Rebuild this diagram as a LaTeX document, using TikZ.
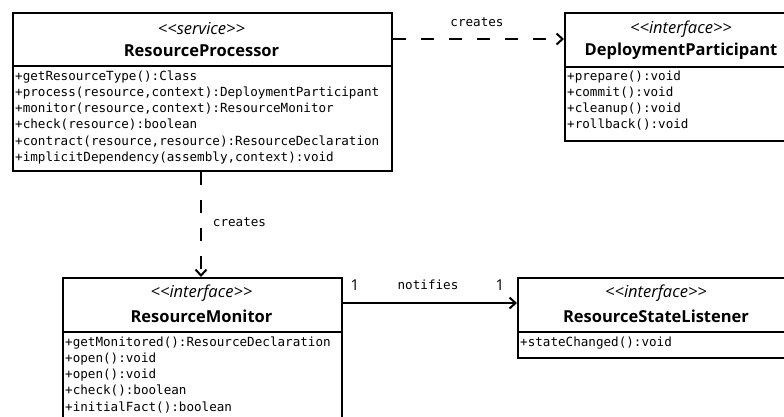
\documentclass[tikz,border=0pt]{standalone}
\usepackage{fontspec}
\setmainfont{Open Sans}
\newfontfamily\monof{DejaVu Sans Mono}
\usetikzlibrary{arrows.meta}
\tikzset{
  x=1pt, y=-1pt,
  hdr/.style={draw, line width=2pt, anchor=north west, inner sep=0pt, align=center, fill=white},
  bdy/.style={draw, line width=2pt, anchor=north west, inner sep=0pt, fill=white},
  attr/.style={anchor=north west, inner sep=0pt, align=left, font=\monof\fontsize{12.6}{16.2}\selectfont},
  lbl/.style={inner sep=0pt, font=\monof\fontsize{12.6}{16.2}\selectfont},
  mult/.style={inner sep=0pt, font=\fontsize{15}{15}\selectfont},
  dep/.style={line width=2pt, dash pattern=on 13pt off 15pt, -{Straight Barb[length=6pt,width=11pt,line width=2pt]}},
  assoc/.style={line width=2pt, -{Straight Barb[length=6pt,width=11pt,line width=2pt]}},
}
\newcommand{\stereo}[1]{{\itshape\fontsize{16.5}{16.5}\selectfont <\kern0pt<#1>\kern0pt>}}
\newcommand{\cname}[1]{{\bfseries\fontsize{16.5}{16.5}\selectfont #1}}
\begin{document}
\begin{tikzpicture}
\clip (0,0) rectangle (784,416);
\useasboundingbox (0,0) rectangle (784,416);
% ResourceProcessor
\node[bdy, minimum width=379pt, minimum height=105pt] (rpb) at (12,65) {};
\node[hdr, minimum width=379pt, minimum height=53pt] (rph) at (12,12) {};
\node (rpst) at (201.5,29) {\stereo{service}};
\node (rpnm) at (201.5,51) {\cname{ResourceProcessor}};
\node[attr] (rpat) at (15,70.5) {+getResourceType():Class\\+process(resource,context):DeploymentParticipant\\+monitor(resource,context):ResourceMonitor\\+check(resource):boolean\\+contract(resource,resource):ResourceDeclaration\\+implicitDependency(assembly,context):void};
% DeploymentParticipant
\node[bdy, minimum width=234pt, minimum height=74pt] (dpb) at (564,66) {};
\node[hdr, minimum width=234pt, minimum height=54pt] (dph) at (564,12) {};
\node (dpst) at (681,29) {\stereo{interface}};
\node (dpnm) at (681,51) {\cname{DeploymentParticipant}};
\node[attr] (dpat) at (567,70.5) {+prepare():void\\+commit():void\\+cleanup():void\\+rollback():void};
% ResourceMonitor
\node[bdy, minimum width=279pt, minimum height=110pt] (rmb) at (62,331) {};
\node[hdr, minimum width=279pt, minimum height=54pt] (rmh) at (62,277) {};
\node (rmst) at (201.5,293) {\stereo{interface}};
\node (rmnm) at (201.5,316) {\cname{ResourceMonitor}};
\node[attr] (rmat) at (65,336.5) {+getMonitored():ResourceDeclaration\\+open():void\\+open():void\\+check():boolean\\+initialFact():boolean};
% ResourceStateListener
\node[bdy, minimum width=278pt, minimum height=26pt] (rsb) at (517,331) {};
\node[hdr, minimum width=278pt, minimum height=54pt] (rsh) at (517,277) {};
\node (rsst) at (656,293) {\stereo{interface}};
\node (rsnm) at (656,316) {\cname{ResourceStateListener}};
\node[attr] (rsat) at (520,337) {+stateChanged():void};
% connectors
\draw[dep] (rph.east |- 0,39) -- (dph.west |- 0,39);
\node[lbl] (l1) at (477,22) {creates};
\draw[dep] (rpb.south -| 201,0) -- (rmh.north -| 201,0);
\node[lbl] (l2) at (239.5,222) {creates};
\draw[assoc] (rmh.east |- 0,303) -- (rsh.west |- 0,303);
\node[lbl] (l3) at (428,285) {notifies};
\node[mult] (m1) at (355,285) {1};
\node[mult] (m2) at (500,285) {1};
\end{tikzpicture}
\end{document}
